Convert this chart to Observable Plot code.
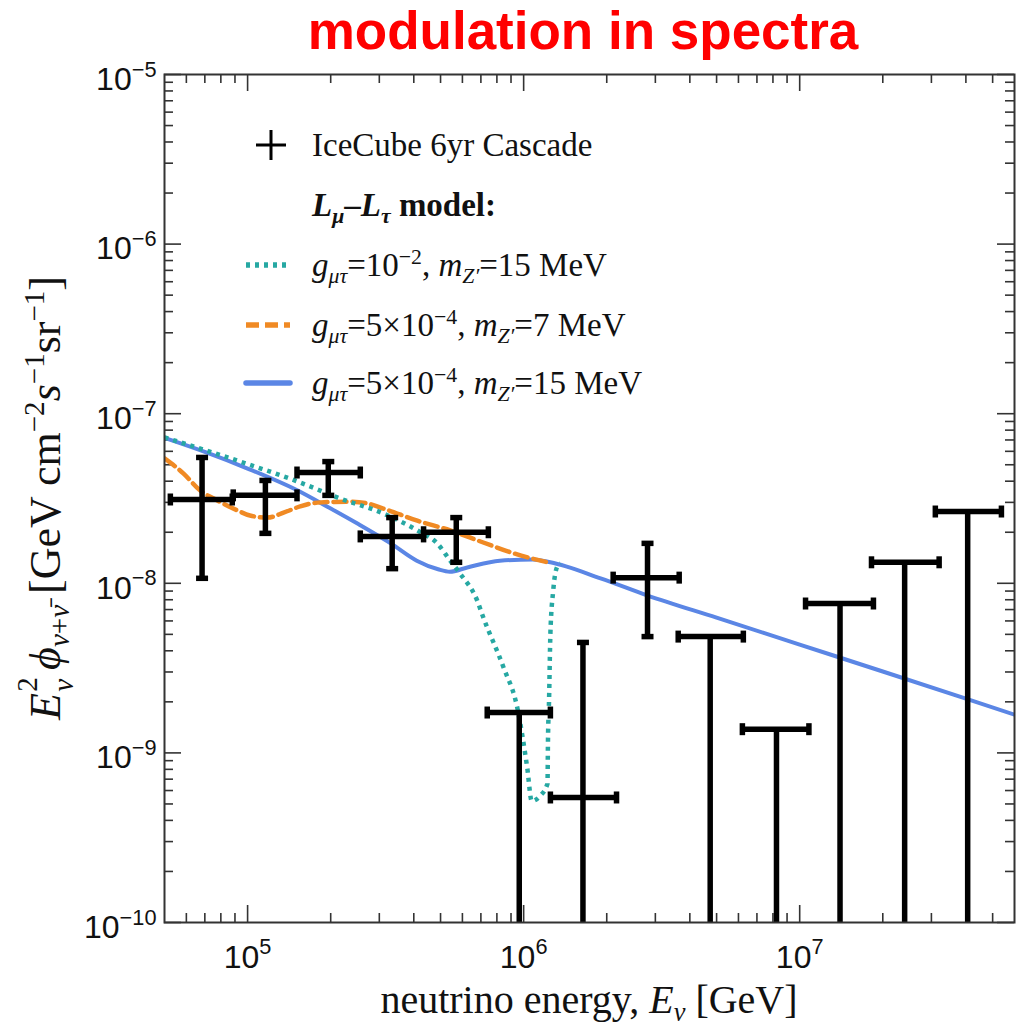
<!DOCTYPE html>
<html>
<head>
<meta charset="utf-8">
<script src="https://cdn.jsdelivr.net/npm/d3@7"></script>
<script src="https://cdn.jsdelivr.net/npm/@observablehq/plot@0.6"></script>
<style>
  body { margin: 0; background: #fff; }
  #wrap { position: relative; width: 1021px; height: 1026px; overflow: hidden; background: #fff; }
  #title { position: absolute; left: 583px; top: 4px; transform: translateX(-50%); white-space: nowrap;
           font: bold 53px "Liberation Sans", Arial, sans-serif; line-height: 1; color: #ff0000; }
  #chart { position: absolute; left: 0; top: 62px; }
  .serif { font-family: "Liberation Serif", "Times New Roman", serif; color: #111; }
  .lg { position: absolute; left: 312px; white-space: nowrap; font-size: 33px; line-height: 1; transform: translateY(-50%); }
  .sw { position: absolute; }
  sub, sup { font-size: 0.66em; line-height: 0; position: relative; vertical-align: baseline; }
  sub { top: 0.3em; }
  sup { top: -0.55em; }
  #ylab { position: absolute; left: 46px; top: 498px; transform: translate(-50%, -50%) rotate(-90deg); white-space: nowrap; font-size: 44px; line-height: 1; }
  #xlab { position: absolute; left: 589px; top: 1000px; transform: translate(-50%, -50%); white-space: nowrap; font-size: 40px; line-height: 1; }
  .stack { display: inline-block; position: relative; width: 0.42em; height: 1em; vertical-align: baseline; font-size: 0.66em; }
  .stack .up { position: absolute; left: 0.05em; top: -0.62em; }
  .stack .dn { position: absolute; left: 0.05em; top: 0.62em; }
</style>
</head>
<body>
<div id="wrap">
  <div id="title">modulation in spectra</div>
  <div id="chart"></div>
</div>
<script>
// ---------------- data ----------------
// IceCube 6yr cascade points (energy in GeV, E^2 flux in GeV cm^-2 s^-1 sr^-1)
const dataE    = [6.84e4, 1.16e5, 1.96e5, 3.34e5, 5.70e5, 9.64e5, 1.64e6, 2.81e6, 4.74e6, 8.24e6, 1.40e7, 2.40e7, 4.06e7];
const dataELo  = [5.25e4, 8.87e4, 1.51e5, 2.56e5, 4.34e5, 7.38e5, 1.25e6, 2.11e6, 3.63e6, 6.20e6, 1.05e7, 1.82e7, 3.10e7];
const dataEHi  = [8.80e4, 1.51e5, 2.56e5, 4.34e5, 7.45e5, 1.25e6, 2.17e6, 3.66e6, 6.25e6, 1.08e7, 1.85e7, 3.20e7, 5.38e7];
const dataPhi  = [3.12e-8, 3.30e-8, 4.50e-8, 1.89e-8, 2.00e-8, 1.73e-9, 5.46e-10, 1.08e-8, 4.85e-9, 1.38e-9, 7.6e-9, 1.33e-8, 2.65e-8];
const dataPhiLo= [1.07e-8, 1.97e-8, 3.30e-8, 1.22e-8, 1.33e-8, 1e-12, 1e-12, 4.85e-9, 1e-12, 1e-12, 1e-12, 1e-12, 1e-12];
const dataPhiHi= [5.52e-8, 4.04e-8, 5.22e-8, 2.44e-8, 2.44e-8, 1.73e-9, 4.48e-9, 1.72e-8, 4.85e-9, 1.38e-9, 7.6e-9, 1.33e-8, 2.65e-8];

// g=1e-2, mZ'=15 MeV (teal dotted)
const tealE   = [5e4, 1e5, 1.55e5, 2.11e5, 3.1e5, 4.12e5, 4.86e5, 5.42e5, 5.89e5, 6.79e5, 7.14e5, 8.45e5, 9.48e5, 1.03e6, 1.07e6, 1.15e6, 1.22e6, 1.225e6, 1.236e6, 1.25e6, 1.28e6, 1.32e6, 1.36e6];
const tealPhi = [7.25e-8, 5.05e-8, 3.93e-8, 3.21e-8, 2.58e-8, 2.05e-8, 1.72e-8, 1.36e-8, 1.14e-8, 7.9e-9, 6.3e-9, 3.2e-9, 1.85e-9, 8.2e-10, 5.2e-10, 5.6e-10, 6.6e-10, 1.18e-9, 2.04e-9, 5.06e-9, 9.1e-9, 1.24e-8, 1.31e-8];

// g=5e-4, mZ'=7 MeV (orange dashed)
const orangeE   = [5.0e4, 5.85e4, 6.74e4, 7.77e4, 9.18e4, 1.02e5, 1.18e5, 1.35e5, 1.55e5, 1.79e5, 2.36e5, 2.71e5, 3.1e5, 4.12e5, 5.42e5, 7.14e5, 9.48e5, 1.22e6];
const orangePhi = [5.45e-8, 4.45e-8, 3.52e-8, 3.08e-8, 2.69e-8, 2.51e-8, 2.44e-8, 2.61e-8, 2.84e-8, 2.99e-8, 3.03e-8, 2.96e-8, 2.76e-8, 2.34e-8, 2.05e-8, 1.74e-8, 1.48e-8, 1.33e-8];

// g=5e-4, mZ'=15 MeV (blue solid)
const blueE   = [5e4, 7e4, 1e5, 1.5e5, 2e5, 2.5e5, 3.3e5, 4.1e5, 4.9e5, 5.4e5, 6.25e5, 8.2e5, 1.08e6, 1.25e6, 1.9e6, 2.8e6, 5e6, 1e7, 2e7, 4e7, 6e7];
const bluePhi = [7.2e-8, 5.95e-8, 4.75e-8, 3.56e-8, 2.76e-8, 2.25e-8, 1.72e-8, 1.36e-8, 1.21e-8, 1.17e-8, 1.24e-8, 1.36e-8, 1.38e-8, 1.33e-8, 1.07e-8, 8.5e-9, 6.27e-9, 4.35e-9, 3.02e-9, 2.09e-9, 1.68e-9];

const xMajor = [1e5, 1e6, 1e7];
const yMajor = [1e-10, 1e-9, 1e-8, 1e-7, 1e-6, 1e-5];
const xDomain = [5e4, 6e7];
const yDomain = [1e-10, 1e-5];

const colors = {teal: "#26a8a3", orange: "#f08a24", blue: "#5b86e5"};
const dash = {teal: "4,5", orange: "13,6", blue: null};

// ---------------- build ----------------
const pts = dataE.map((e, i) => ({e, lo: dataELo[i], hi: dataEHi[i], p: dataPhi[i], plo: dataPhiLo[i], phi: dataPhiHi[i]}));
const toRows = (E, P) => E.map((e, i) => ({e, p: P[i]}));
const teal = toRows(tealE, tealPhi), orange = toRows(orangeE, orangePhi), blue = toRows(blueE, bluePhi);

function minors(dom) {
  const out = [];
  for (let k = Math.floor(Math.log10(dom[0])); k <= Math.ceil(Math.log10(dom[1])); k++)
    for (let m = 2; m <= 9; m++) { const v = m * Math.pow(10, k); if (v > dom[0] && v < dom[1]) out.push(v); }
  return out;
}
const xMinor = minors(xDomain), yMinor = minors(yDomain);

const W = 1021, H = 964, mt = 12, mb = 104, ml = 164, mr = 7;
const FW = W - ml - mr, FH = H - mt - mb;
const MAJ = 17, MIN = 9;
const tickStyle = {stroke: "#333", strokeWidth: 1.6};

const vbar = {draw(ctx, size) { const r = Math.sqrt(size / Math.PI); ctx.moveTo(0, -r); ctx.lineTo(0, r); }};
const hbar = {draw(ctx, size) { const r = Math.sqrt(size / Math.PI); ctx.moveTo(-r, 0); ctx.lineTo(r, 0); }};

const ebar = {stroke: "black", strokeWidth: 5.5, clip: true};

const chart = Plot.plot({
  width: W, height: H, marginTop: mt, marginBottom: mb, marginLeft: ml, marginRight: mr,
  x: {type: "log", domain: xDomain, axis: null},
  y: {type: "log", domain: yDomain, axis: null},
  style: {background: "white", overflow: "visible"},
  marks: [
    // ticks (inward, all four sides)
    Plot.ruleX(xMajor, {x: d => d, insetTop: FH - MAJ, ...tickStyle}),
    Plot.ruleX(xMajor, {x: d => d, insetBottom: FH - MAJ, ...tickStyle}),
    Plot.ruleX(xMinor, {x: d => d, insetTop: FH - MIN, ...tickStyle}),
    Plot.ruleX(xMinor, {x: d => d, insetBottom: FH - MIN, ...tickStyle}),
    Plot.ruleY(yMajor, {y: d => d, insetRight: FW - MAJ, ...tickStyle}),
    Plot.ruleY(yMajor, {y: d => d, insetLeft: FW - MAJ, ...tickStyle}),
    Plot.ruleY(yMinor, {y: d => d, insetRight: FW - MIN, ...tickStyle}),
    Plot.ruleY(yMinor, {y: d => d, insetLeft: FW - MIN, ...tickStyle}),
    // model curves
    Plot.line(blue, {x: "e", y: "p", stroke: colors.blue, strokeWidth: 4, curve: "monotone-x", clip: true}),
    Plot.line(orange, {x: "e", y: "p", stroke: colors.orange, strokeWidth: 4.5, strokeDasharray: dash.orange, curve: "monotone-x", clip: true}),
    Plot.line(teal, {x: "e", y: "p", stroke: colors.teal, strokeWidth: 4.5, strokeDasharray: dash.teal, strokeLinecap: "butt", curve: "monotone-x", clip: true}),
    // data error bars
    Plot.link(pts, {x1: "lo", x2: "hi", y1: "p", y2: "p", ...ebar}),
    Plot.link(pts, {x1: "e", x2: "e", y1: "plo", y2: "phi", ...ebar}),
    Plot.dot(pts, {x: "lo", y: "p", symbol: vbar, r: 6, ...ebar}),
    Plot.dot(pts, {x: "hi", y: "p", symbol: vbar, r: 6, ...ebar}),
    Plot.dot(pts.filter(d => d.phi > d.p), {x: "e", y: "phi", symbol: hbar, r: 6, ...ebar}),
    Plot.dot(pts.filter(d => d.plo >= yDomain[0]), {x: "e", y: "plo", symbol: hbar, r: 6, ...ebar}),
    Plot.frame({stroke: "#333", strokeWidth: 2}),
    // tick labels
    Plot.text(xMajor, {x: d => d, text: d => "10^" + Math.round(Math.log10(d)), frameAnchor: "bottom", dy: 45,
      fontSize: 32, fontFamily: "Liberation Sans, Arial, sans-serif", fill: "#111", className: "suplab"}),
    Plot.text(yMajor, {y: d => d, text: d => "10^\u2212" + Math.round(-Math.log10(d)), frameAnchor: "left", dx: -8, dy: 5,
      textAnchor: "end", fontSize: 32, fontFamily: "Liberation Sans, Arial, sans-serif", fill: "#111", className: "suplab"})
  ]
});

// superscript exponents in tick labels
d3.select(chart).selectAll(".suplab text").each(function () {
  const s = this.textContent, i = s.indexOf("^");
  if (i < 0) return;
  const t = d3.select(this);
  t.text(s.slice(0, i));
  t.append("tspan").attr("dy", "-0.6em").attr("font-size", "0.68em").text(s.slice(i + 1));
});

document.getElementById("chart").appendChild(chart);

// ---------------- legend, axis titles (HTML overlay) ----------------
const wrap = document.getElementById("wrap");
const legendRows = [
  {y: 145, sample: "cross", html: "IceCube 6yr Cascade"},
  {y: 205, sample: null, html: "<b><i>L</i><sub><i>μ</i></sub>–<i>L</i><sub><i>τ</i></sub> model:</b>"},
  {y: 265, sample: "teal", html: "<i>g</i><sub><i>μτ</i></sub>=10<sup>−2</sup>, <i>m</i><sub><i>Z′</i></sub>=15 MeV"},
  {y: 325, sample: "orange", html: "<i>g</i><sub><i>μτ</i></sub>=5×10<sup>−4</sup>, <i>m</i><sub><i>Z′</i></sub>=7 MeV"},
  {y: 383, sample: "blue", html: "<i>g</i><sub><i>μτ</i></sub>=5×10<sup>−4</sup>, <i>m</i><sub><i>Z′</i></sub>=15 MeV"}
];
legendRows.forEach(r => {
  const d = document.createElement("div");
  d.className = "lg serif";
  d.style.top = (r.y) + "px";
  d.innerHTML = r.html;
  wrap.appendChild(d);
  if (r.sample) {
    const s = d3.create("svg").attr("class", "sw").attr("width", 60).attr("height", 40)
      .style("left", "240px").style("top", (r.y - 20) + "px");
    if (r.sample === "cross") {
      s.append("path").attr("d", "M16,20H46M31,5V35").attr("stroke", "black").attr("stroke-width", 3);
    } else {
      const l = s.append("line").attr("x1", 6).attr("x2", 50).attr("y1", 20).attr("y2", 20)
        .attr("stroke", colors[r.sample]).attr("stroke-width", 5.5);
      if (dash[r.sample]) l.attr("stroke-dasharray", dash[r.sample]);
      else l.attr("stroke-linecap", "round");
    }
    wrap.appendChild(s.node());
  }
});

const ylab = document.createElement("div");
ylab.id = "ylab"; ylab.className = "serif";
ylab.innerHTML = "<i>E</i><span class='stack'><span class='up'>2</span><span class='dn'><i>ν</i></span></span> <i>ϕ</i><sub><i>ν</i>+<i>ν̄</i></sub> [GeV cm<sup>−2</sup><i>s</i><sup>−1</sup>sr<sup>−1</sup>]";
wrap.appendChild(ylab);

const xlab = document.createElement("div");
xlab.id = "xlab"; xlab.className = "serif";
xlab.innerHTML = "neutrino energy, <i>E</i><sub><i>ν</i></sub> [GeV]";
wrap.appendChild(xlab);
</script>
</body>
</html>
